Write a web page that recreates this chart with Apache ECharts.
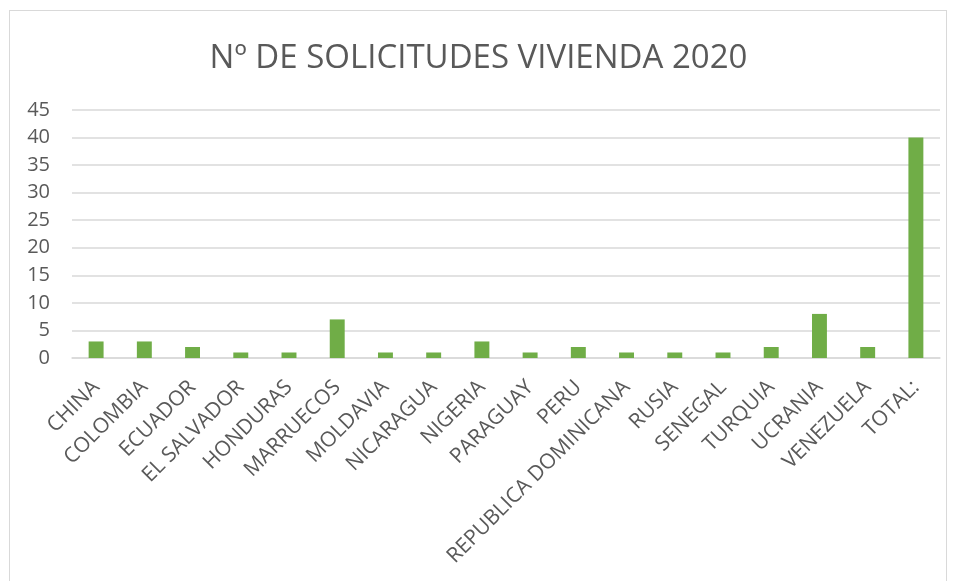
<!DOCTYPE html>
<html>
<head>
<meta charset="utf-8">
<script src="https://cdn.jsdelivr.net/npm/echarts@6/dist/echarts.min.js"></script>
<style>
  html, body { margin: 0; padding: 0; background: #fff; }
  #frame { position: absolute; left: 9px; top: 10px; width: 938px; height: 580px; border: 1px solid #d9d9d9; box-sizing: border-box; }
  #main { width: 957px; height: 581px; }
</style>
</head>
<body>
<div id="frame"></div>
<div id="main"></div>
<script>
var categories = ['CHINA', 'COLOMBIA', 'ECUADOR', 'EL SALVADOR', 'HONDURAS', 'MARRUECOS', 'MOLDAVIA',
    'NICARAGUA', 'NIGERIA', 'PARAGUAY', 'PERU', 'REPUBLICA DOMINICANA', 'RUSIA', 'SENEGAL',
    'TURQUIA', 'UCRANIA', 'VENEZUELA', 'TOTAL:'];
var solicitudes = [3, 3, 2, 1, 1, 7, 1, 1, 3, 1, 2, 1, 1, 1, 2, 8, 2, 40];
var yTicks = [0, 5, 10, 15, 20, 25, 30, 35, 40, 45];

init()

function init() {
    var myChart = echarts.init(document.getElementById('main'));
    var txt = '#595959';
    var option = {
        animation: false,
        title: {
            text: 'Nº DE SOLICITUDES VIVIENDA 2020',
            left: 'center',
            top: 37,
            textStyle: { fontFamily: 'Open Sans', fontWeight: 'normal', fontSize: 33, color: txt }
        },
        grid: { left: 72, right: 17, top: 110, bottom: 223, containLabel: false },
        xAxis: {
            type: 'category',
            data: categories,
            axisLine: { lineStyle: { color: '#d9d9d9', width: 1.5 } },
            axisTick: { show: false },
            axisLabel: {
                rotate: 45,
                interval: 0,
                margin: 26,
                color: txt,
                fontFamily: 'Open Sans',
                fontSize: 21
            }
        },
        yAxis: {
            type: 'value',
            min: yTicks[0],
            max: yTicks[yTicks.length - 1],
            interval: 5,
            axisLine: { show: false },
            axisTick: { show: false },
            splitLine: { lineStyle: { color: '#d9d9d9', width: 1.5 } },
            axisLabel: { color: txt, fontFamily: 'Open Sans', fontSize: 20, margin: 22 }
        },
        series: [{
            type: 'bar',
            data: solicitudes,
            barWidth: '31%',
            itemStyle: { color: '#70ad47' }
        }]
    };
    myChart.setOption(option);
}
</script>
</body>
</html>
